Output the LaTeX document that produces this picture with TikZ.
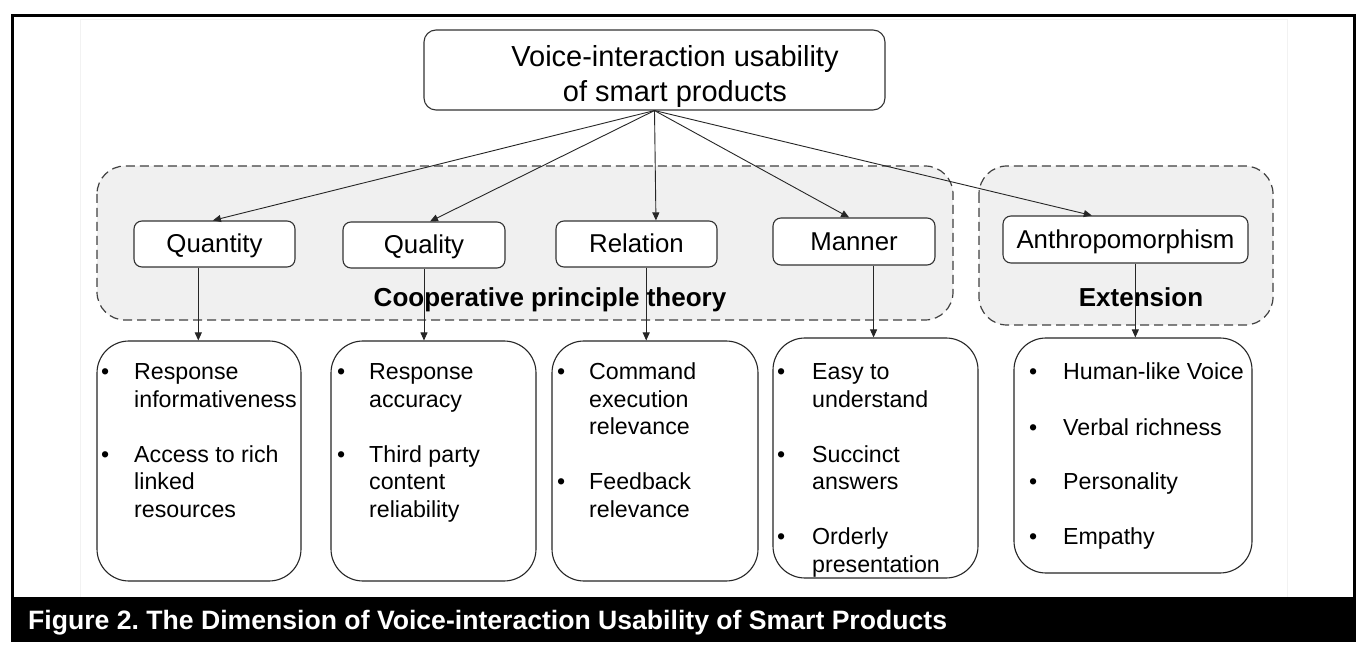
\documentclass[tikz,border=0pt]{standalone}
\usepackage{fontspec}
\setmainfont{Liberation Sans}
\usetikzlibrary{arrows.meta,calc}
\frenchspacing

\newlength\bgap
\newcommand\itm{\makebox[\bgap][l]{•}}
\newcommand\cnt{\hspace*{\bgap}}

\tikzset{
  group/.style={draw=black!75, fill=black!6, dash pattern=on 9pt off 5pt,
    line width=1.2pt, rounded corners=28pt},
  grouplabel/.style={anchor=base, inner sep=0pt, font=\fontsize{26}{30}\selectfont\bfseries},
  catbox/.style={draw=black!80, fill=white, line width=1.1pt, rounded corners=8pt,
    minimum height=46pt, inner sep=0pt, text height=18pt, text depth=0pt,
    font=\fontsize{25.8}{30}\selectfont},
  listbox/.style={draw=black!85, fill=white, line width=1.1pt, rounded corners=32pt,
    inner sep=0pt},
  listtext/.style={anchor=base west, inner sep=0pt, font=\fontsize{23.2}{27.5}\selectfont},
  conn/.style={draw=black!85, line width=0.9pt, -{Triangle[length=8pt,width=7pt]}},
}

\begin{document}
\begin{tikzpicture}[x=1pt,y=-1pt]
\useasboundingbox (0,0) rectangle (1366,652);

% page frame, figure area and caption bar
\fill[white] (0,0) rectangle (1366,652);
\draw[black!5, fill=white] (80,19) rectangle (1287,597);
\draw[black, line width=3pt] (12.5,15.5) rectangle (1354.5,640.5);
\fill[black] (11,597) rectangle (1356,642);
\node[anchor=base west, inner sep=0pt, text=white, font=\fontsize{26.6}{30}\selectfont\bfseries]
  (caption) at (28,629) {Figure 2. The Dimension of Voice-interaction Usability of Smart Products};

% dashed groups
\path[group] (97,166) rectangle (953,320);
\path[group] (979,166) rectangle (1273,325);
\node[grouplabel] (coop) at (550,307) {Cooperative principle theory};
\node[grouplabel] (ext) at (1141,307) {Extension};

% root
\node[draw=black!80, fill=white, line width=1.1pt, rounded corners=12pt,
      minimum width=461pt, minimum height=80pt, inner sep=0pt] (top) at (654.5,70) {};
\node[anchor=base, inner sep=0pt, font=\fontsize{29}{35}\selectfont] (toptext) at (675,66.7)
  {\begin{tabular}[t]{@{}c@{}}Voice-interaction usability\\ of smart products\end{tabular}};

% principles
\node[catbox, minimum width=161pt] (qty) at (214.5,244) {Quantity};
\node[catbox, minimum width=162pt] (qual) at (424,245) {Quality};
\node[catbox, minimum width=161pt] (rel) at (636.5,244) {Relation};
\node[catbox, minimum width=162pt, minimum height=47pt] (man) at (854,241.5) {Manner};
\node[catbox, minimum width=245pt, minimum height=47pt] (anth) at (1125.5,239.5) {Anthropomorphism};

% item boxes
\node[listbox, minimum width=204pt, minimum height=240pt] (b1) at (199,461) {};
\node[listbox, minimum width=205pt, minimum height=240pt] (b2) at (433.5,461) {};
\node[listbox, minimum width=206pt, minimum height=240pt] (b3) at (655,461) {};
\node[listbox, minimum width=205pt, minimum height=240pt] (b4) at (875.5,458) {};
\node[listbox, minimum width=238pt, minimum height=235pt] (b5) at (1133,455.5) {};

\node[listtext] (t1) at (101,380) {\setlength\bgap{33pt}\begin{tabular}[t]{@{}l@{}}
  \itm Response\\ \cnt informativeness\\[27.5pt]
  \itm Access to rich\\ \cnt linked\\ \cnt resources\end{tabular}};
\node[listtext] (t2) at (337,380) {\setlength\bgap{32pt}\begin{tabular}[t]{@{}l@{}}
  \itm Response\\ \cnt accuracy\\[27.5pt]
  \itm Third party\\ \cnt content\\ \cnt reliability\end{tabular}};
\node[listtext] (t3) at (557,380) {\setlength\bgap{32pt}\begin{tabular}[t]{@{}l@{}}
  \itm Command\\ \cnt execution\\ \cnt relevance\\[27.5pt]
  \itm Feedback\\ \cnt relevance\end{tabular}};
\node[listtext] (t4) at (777,380) {\setlength\bgap{35pt}\begin{tabular}[t]{@{}l@{}}
  \itm Easy to\\ \cnt understand\\[27.5pt]
  \itm Succinct\\ \cnt answers\\[27.5pt]
  \itm Orderly\\ \cnt presentation\end{tabular}};
\node[listtext] (t5) at (1029,380) {\setlength\bgap{34pt}\begin{tabular}[t]{@{}l@{}}
  \itm Human-like Voice\\[27.5pt]
  \itm Verbal richness\\[27.5pt]
  \itm Personality\\[27.5pt]
  \itm Empathy\end{tabular}};

% connectors from the root
\draw[conn] (top.south) -- ($(qty.north west)!0.49!(qty.north east)$);
\draw[conn] (top.south) -- ($(qual.north west)!0.537!(qual.north east)$);
\draw[conn] (top.south) -- ($(rel.north west)!0.62!(rel.north east)$);
\draw[conn] (top.south) -- ($(man.north west)!0.47!(man.north east)$);
\draw[conn] (top.south) -- ($(anth.north west)!0.363!(anth.north east)$);

% connectors to the item boxes
\coordinate (q1) at ($(qty.south west)!0.40!(qty.south east)$);
\coordinate (q2) at ($(qual.south west)!0.5!(qual.south east)$);
\coordinate (q3) at ($(rel.south west)!0.56!(rel.south east)$);
\coordinate (q4) at ($(man.south west)!0.62!(man.south east)$);
\coordinate (q5) at ($(anth.south west)!0.54!(anth.south east)$);
\draw[conn] (q1) -- (q1 |- b1.north);
\draw[conn] (q2) -- (q2 |- b2.north);
\draw[conn] (q3) -- (q3 |- b3.north);
\draw[conn] (q4) -- (q4 |- b4.north);
\draw[conn] (q5) -- (q5 |- b5.north);
\end{tikzpicture}
\end{document}
